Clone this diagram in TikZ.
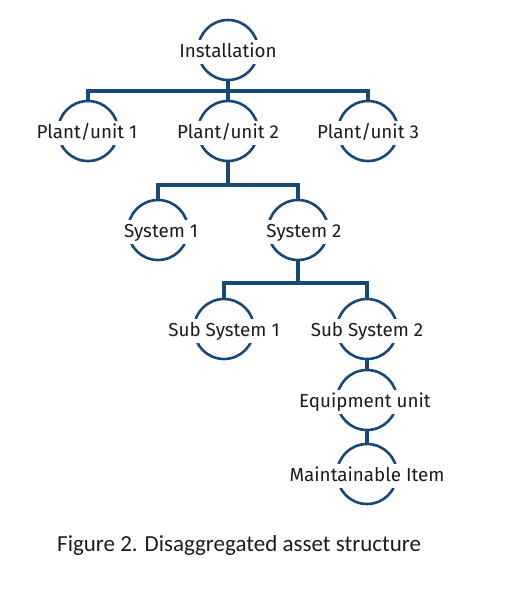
\documentclass[tikz,border=0pt]{standalone}
\usepackage{fontspec}
\setmainfont{Fira Sans}
\newfontfamily\capfont{Carlito}
\definecolor{navy}{RGB}{24,72,118}
\definecolor{ink}{RGB}{30,27,28}
\begin{document}
\begin{tikzpicture}[x=1pt,y=-1pt,
  ring/.style={circle,draw=navy,line width=2.6pt,minimum size=60pt,inner sep=0pt},
  lbl/.style={fill=white,text=ink,anchor=base,font=\fontsize{18.8}{21}\selectfont,
    text height=14pt,text depth=4pt,inner xsep=2pt,inner ysep=3pt},
  conn/.style={draw=navy,line width=4pt}]
\useasboundingbox (0,0) rectangle (526,600);
% circles
\node[ring] (inst) at (228,50) {};
\node[ring] (p1) at (88,131) {};
\node[ring] (p2) at (228,131) {};
\node[ring] (p3) at (368,131) {};
\node[ring] (s1) at (158,230) {};
\node[ring] (s2) at (298,230) {};
\node[ring] (ss1) at (224,329) {};
\node[ring] (ss2) at (367,329) {};
\node[ring] (eq) at (367,400) {};
\node[ring] (mi) at (367,474) {};
% branch points
\coordinate (b1) at (228,91);
\coordinate (b2) at (228,185);
\coordinate (b3) at (298,283);
% connectors
\draw[conn] (inst.south) -- (b1);
\draw[conn] (p1.north) |- (b1) -| (p3.north);
\draw[conn] (p2.north) -- (b1);
\draw[conn] (p2.south) -- (b2);
\draw[conn] (s1.north) |- (b2) -| (s2.north);
\draw[conn] (s2.south) -- (b3);
\draw[conn] (ss1.north) |- (b3) -| (ss2.north);
\draw[conn] (ss2.south) -- (eq.north);
\draw[conn] (eq.south) -- (mi.north);
% labels
\node[lbl] (tinst) at (228,57) {Installation};
\node[lbl] (tp1) at (87,138) {Plant/unit 1};
\node[lbl] (tp2) at (228,138) {Plant/unit 2};
\node[lbl] (tp3) at (368,138) {Plant/unit 3};
\node[lbl] (ts1) at (161,237) {System 1};
\node[lbl] (ts2) at (304,237) {System 2};
\node[lbl] (tss1) at (224,336) {Sub System 1};
\node[lbl] (tss2) at (367,336) {Sub System 2};
\node[lbl] (teq) at (365,407) {Equipment unit};
\node[lbl] (tmi) at (367,481) {Maintainable Item};
% caption
\node[anchor=base west,inner sep=0pt,text=ink,font=\capfont\fontsize{23}{27}\selectfont] (cap) at (57,551) {Figure 2. Disaggregated asset structure};
\end{tikzpicture}
\end{document}
